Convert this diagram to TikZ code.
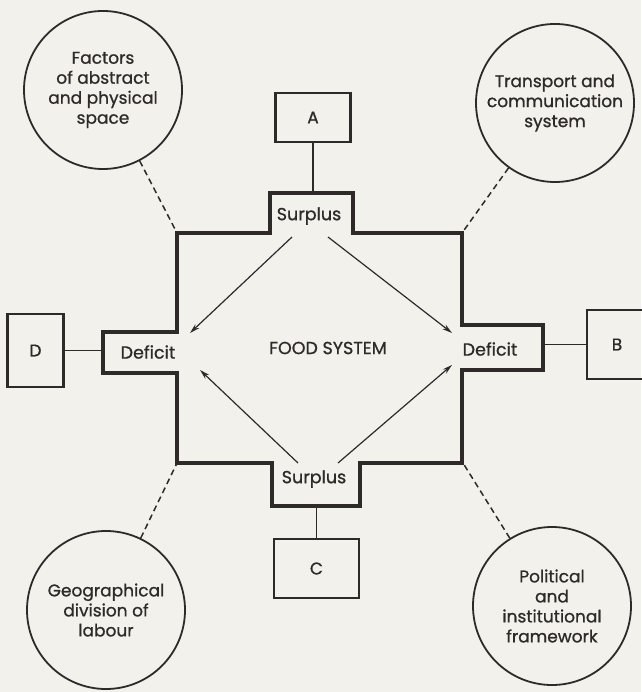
\documentclass[tikz,border=0pt]{standalone}
\usepackage{fontspec}
\setmainfont{Poppins}[FakeBold=0.9]
\usetikzlibrary{arrows.meta}
\definecolor{paper}{HTML}{F3F1EC}
\definecolor{ink}{HTML}{2E2A28}
\begin{document}
\begin{tikzpicture}[x=1pt,y=-1pt,
  every node/.style={text=ink},
  txt/.style={font=\fontsize{17.5}{20}\selectfont, inner sep=0pt},
  bubble/.style={circle, draw=ink, line width=1.8pt, minimum size=158pt, inner sep=0pt, align=center, font=\fontsize{17}{20}\selectfont},
  letterbox/.style={rectangle, draw=ink, line width=2.1pt, inner sep=0pt, font=\fontsize{17}{18}\selectfont},
  link/.style={draw=ink, line width=1.6pt},
  dashlink/.style={draw=ink, line width=1.5pt, dash pattern=on 6pt off 4pt},
  flow/.style={draw=ink, line width=1.2pt, -{Stealth[length=10pt,width=5.5pt]}},
  outline/.style={draw=ink, line width=4.2pt, line join=miter}
]
\fill[paper] (0,0) rectangle (641,692);
\useasboundingbox (0,0) rectangle (641,692);

% corners of the food-system cross
\coordinate (tl) at (177,233);
\coordinate (tr) at (462,233);
\coordinate (br) at (463,463);
\coordinate (bl) at (177,463);
\coordinate (topmid) at (312,193);
\coordinate (botmid) at (316,506);
\coordinate (leftmid) at (103,352);
\coordinate (rightmid) at (543,348);

\draw[outline] (177,233) -- (270,233) -- (270,193) -- (353,193) -- (353,233)
  -- (462,233) -- (462,325) -- (543,325) -- (543,370) -- (462,370)
  -- (462,463) -- (360,463) -- (360,506) -- (272,506) -- (272,463)
  -- (177,463) -- (177,373) -- (103,373) -- (103,332) -- (177,332) -- cycle;

% labels
\node[txt] (s1) at (309,216) {Surplus};
\node[txt] (s2) at (314,479) {Surplus};
\node[txt] (d1) at (148,352) {Deficit};
\node[txt] (d2) at (490,349) {Deficit};
\node[txt] (fs) at (328,348) {FOOD SYSTEM};

% arrows
\coordinate (a1s) at (292,237);
\coordinate (a1e) at (190,333);
\coordinate (a2s) at (328,237);
\coordinate (a2e) at (452,333);
\coordinate (a3s) at (298,463);
\coordinate (a3e) at (200,370);
\coordinate (a4s) at (338,463);
\coordinate (a4e) at (452,365);
\draw[flow] (a1s) -- (a1e);
\draw[flow] (a2s) -- (a2e);
\draw[flow] (a3s) -- (a3e);
\draw[flow] (a4s) -- (a4e);

% letter boxes
\node[letterbox, minimum width=75pt, minimum height=49pt] (A) at (313,117.5) {A};
\node[letterbox, minimum width=56pt, minimum height=73pt] (D) at (35.5,350.5) {D};
\node[letterbox, minimum width=60pt, minimum height=69pt] (B) at (617,344.5) {B};
\node[letterbox, minimum width=85pt, minimum height=59pt] (C) at (316.5,568.5) {C};

\draw[link] (A) -- (A |- topmid);
\draw[link] (C) -- (C |- botmid);
\draw[link] (D) -- (D -| leftmid);
\draw[link] (B) -- (B -| rightmid);

% circles
\node[bubble] (c1) at (103,90) {Factors\\of abstract\\and physical\\space};
\node[bubble] (c2) at (555,103) {Transport and\\communication\\system};
\node[bubble] (c3) at (106,610) {Geographical\\division of\\labour};
\node[bubble] (c4) at (552,606) {Political\\and\\institutional\\framework};

\draw[dashlink] (c1) -- (tl);
\draw[dashlink] (c2) -- (tr);
\draw[dashlink] (c3) -- (bl);
\draw[dashlink] (c4) -- (br);
\end{tikzpicture}
\end{document}
